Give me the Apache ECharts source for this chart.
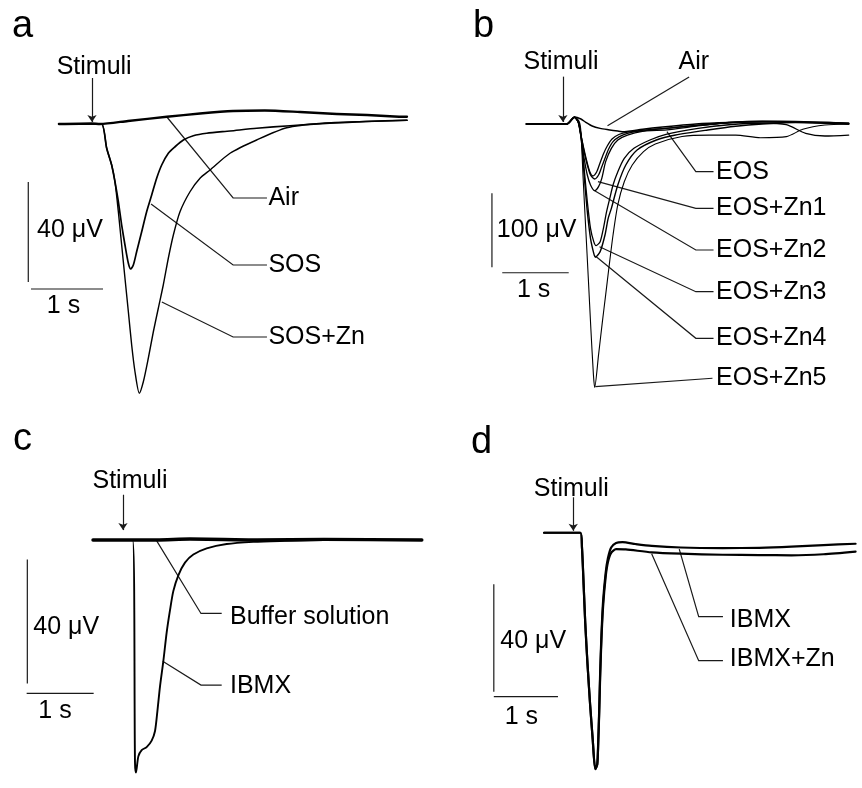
<!DOCTYPE html>
<html>
<head>
<meta charset="utf-8">
<script src="https://cdn.jsdelivr.net/npm/echarts@6/dist/echarts.min.js"></script>
<style>
html,body{margin:0;padding:0;background:#fff;}
#chart{width:862px;height:788px;}
</style>
</head>
<body>
<div id="chart"></div>
<script>
// ---------------- DATA (time in s from stimulus, response in µV) ----------------
// Panel a
const a_air   = [[-0.46,0],[0,0.2],[0.11,0],[0.5,1.2],[1.04,2.9],[1.5,4.2],[1.96,5.2],[2.4,5.4],[2.89,4.8],[3.4,4.0],[3.82,3.6],[4.2,3.0],[4.375,2.9]];
const a_sos   = [[-0.46,0],[0,0],[0.134,0],[0.204,-9.7],[0.273,-16.4],[0.319,-23.1],[0.366,-31.1],[0.412,-40.4],[0.458,-48.4],[0.505,-55.7],[0.537,-58],[0.574,-56.4],[0.62,-51.1],[0.69,-43.1],[0.759,-35.1],[0.829,-28.4],[0.898,-21.7],[0.968,-16.4],[1.06,-11.7],[1.153,-9.1],[1.269,-6.4],[1.407,-4.7],[1.593,-3.7],[1.917,-2.8],[2.287,-1.7],[2.75,-0.7],[3.3,0.3],[3.8,1.0],[4.375,1.5]];
const a_sosZn = [[-0.46,0],[0,0],[0.134,0],[0.204,-9.7],[0.273,-16.4],[0.319,-23.1],[0.366,-35.1],[0.412,-48.4],[0.458,-61.7],[0.505,-75.1],[0.551,-88.4],[0.597,-99.1],[0.657,-107.7],[0.713,-103.1],[0.782,-93.7],[0.852,-83.1],[0.921,-73.7],[0.99,-64.4],[1.06,-53.7],[1.13,-44.4],[1.222,-35.1],[1.361,-27.1],[1.5,-21.7],[1.639,-18.4],[1.917,-11.7],[2.287,-6.4],[2.704,-1.5],[3.2,0.3],[3.8,1.0],[4.375,1.5]];
// Panel b
const b_air = [[-0.55,0],[0.058,0],[0.174,9.5],[0.271,6.8],[0.343,2.3],[0.44,-2.7],[0.56,-5.9],[0.681,-7.7],[0.826,-9.5],[0.923,-10.4],[1.019,-9.5],[1.2,-7],[1.5,-4],[2.0,0],[2.5,2],[3.0,3],[3.5,2.5],[4.0,1],[4.3,0]];
const b_eos = [[-0.55,0],[0.058,0],[0.17,9],[0.23,3],[0.261,-10.8],[0.312,-32.4],[0.362,-51.4],[0.406,-64.9],[0.449,-70.3],[0.507,-64.9],[0.558,-52.7],[0.609,-40.5],[0.667,-29.7],[0.739,-20.3],[0.841,-14.2],[0.971,-11],[1.188,-9.5],[1.565,-8],[2.0,-3],[2.5,2],[3.0,4],[3.5,3.5],[4.0,2],[4.3,1]];
const b_zn1 = [[-0.55,0],[0.058,0],[0.174,9.5],[0.23,3],[0.271,-14.9],[0.319,-37.4],[0.367,-55.4],[0.415,-68.9],[0.478,-74.3],[0.536,-68.9],[0.585,-57.7],[0.633,-46.4],[0.681,-35.1],[0.754,-23.9],[0.85,-17.1],[0.971,-12.6],[1.213,-8.1],[1.551,-5.8],[2.0,-2],[2.5,2],[3.0,3.5],[3.5,3],[4.0,1.5],[4.3,0.5]];
const b_zn2 = [[-0.55,0],[0.058,0],[0.174,9],[0.23,2],[0.271,-17.1],[0.319,-46.4],[0.367,-68.9],[0.415,-82.4],[0.478,-90.1],[0.536,-84.7],[0.585,-73.4],[0.643,-50.9],[0.729,-32.9],[0.826,-21.6],[0.971,-14.9],[1.213,-9.5],[1.551,-5.8],[2.0,-2],[2.5,1.5],[3.0,3],[3.5,2.5],[4.0,1],[4.3,0]];
const b_zn3 = [[-0.55,0],[0.058,0],[0.174,9],[0.24,1],[0.285,-23.9],[0.319,-59.9],[0.367,-105],[0.415,-141],[0.464,-159],[0.498,-164.4],[0.56,-159],[0.609,-141],[0.657,-118.5],[0.705,-100.5],[0.754,-82.4],[0.826,-64.4],[0.923,-46.4],[1.068,-32.9],[1.309,-21.6],[1.551,-13.9],[2.034,-5.8],[2.5,-1],[3.0,1],[3.36,-1],[3.652,-12.6],[3.942,-16.2],[4.3,-14.9]];
const b_zn4 = [[-0.55,0],[0.058,0],[0.174,9],[0.24,1],[0.285,-28.4],[0.319,-68.9],[0.367,-118.5],[0.415,-154.5],[0.464,-174.8],[0.488,-180],[0.56,-172.5],[0.633,-150],[0.681,-127.5],[0.729,-114],[0.826,-82.4],[0.946,-55.4],[1.116,-35.1],[1.406,-21.6],[1.696,-14.9],[2.179,-8.1],[2.6,-3],[3.0,0],[3.5,2],[4.0,2],[4.3,1]];
const b_zn5 = [[-0.55,0],[0.058,0],[0.174,9.5],[0.246,3.2],[0.271,-10.4],[0.304,-73.4],[0.343,-141],[0.382,-208.5],[0.42,-276],[0.459,-339],[0.478,-356],[0.536,-312],[0.594,-267],[0.643,-231],[0.691,-195],[0.754,-150],[0.826,-109],[0.923,-78],[1.043,-55.4],[1.213,-37.4],[1.39,-27],[1.792,-17],[2.2,-15],[2.6,-15],[2.971,-18.5],[3.362,-17.1],[3.609,-7.2],[3.942,-1.4],[4.3,0]];
// Panel c
const c_buffer = [[-0.448,0],[0.5,0],[1.0,0.3],[2.0,0],[3.0,0.2],[4.46,0]];
const c_ibmx   = [[-0.448,0],[0.144,0],[0.179,-71.9],[0.194,-75],[0.229,-69.8],[0.279,-67.8],[0.353,-66.8],[0.428,-64.7],[0.478,-61.6],[0.512,-55.5],[0.552,-47.3],[0.602,-39.1],[0.652,-29.8],[0.701,-22.7],[0.751,-16.5],[0.826,-11.4],[0.925,-7.3],[1.05,-4.7],[1.249,-2.7],[1.547,-1.3],[1.945,-0.6],[2.34,-0.3],[3.0,0],[4.46,0]];
// Panel d
const d_ibmx   = [[-0.455,0],[0.111,0],[0.136,-5.5],[0.162,-19.5],[0.187,-33.6],[0.222,-48.8],[0.263,-64],[0.303,-76.8],[0.343,-88],[0.374,-86.2],[0.389,-78],[0.404,-66.3],[0.419,-52.3],[0.439,-38.2],[0.465,-25.4],[0.505,-14.9],[0.54,-9.5],[0.591,-5.5],[0.667,-3.8],[0.768,-3.5],[0.97,-4.2],[1.222,-4.9],[1.677,-5.5],[2.33,-5.7],[2.9,-5.6],[3.4,-5.2],[3.9,-4.6],[4.4,-4.1]];
const d_ibmxZn = [[-0.455,0],[0.111,0],[0.136,-5.5],[0.162,-19.5],[0.187,-33.6],[0.222,-48.8],[0.263,-64],[0.303,-76.8],[0.343,-88],[0.374,-86.2],[0.389,-78.5],[0.404,-67.5],[0.419,-54],[0.439,-40],[0.465,-27.5],[0.505,-16.5],[0.54,-11],[0.591,-7.5],[0.667,-6.1],[0.818,-6.2],[1.222,-7.3],[1.677,-7.8],[2.33,-8.2],[2.9,-8.3],[3.4,-8.4],[3.9,-8.0],[4.4,-7.0]];

// Scale bar sizes (data units)
const scaleA = {uV:40, s:1};
const scaleB = {uV:100, s:1};
const scaleC = {uV:40, s:1};
const scaleD = {uV:40, s:1};

// ---------------- LAYOUT ----------------
const FONT = "'Liberation Sans', Arial, Helvetica, sans-serif";
const INK = '#000';
const panels = [
  { letter:'a', letterPos:[12,40],
    grid:{left:20, top:24, width:432, height:400}, x:[-1,5], y:[-120,40],
    traces:[{d:a_air,w:2.3},{d:a_sos,w:1.7},{d:a_sosZn,w:1.4}],
    arrow:[[0,18.4],[0,0.8]],
    leaders:[[[1.04,2.8],[1.96,-29.6],[2.43,-29.6]],[[0.82,-32],[1.96,-56.4],[2.43,-56.4]],[[0.97,-71.2],[1.96,-85.2],[2.43,-85.2]]],
    bar:{x:-0.885, y0:-23.2, hx:-0.847, hy:-66, sc:scaleA},
    labels:[['Stimuli',0.03,22.8,'center'],['Air',2.45,-29.6,'left'],['SOS',2.45,-56.4,'left'],['SOS+Zn',2.45,-85.2,'left'],['40 μV',-0.764,-42.4,'left'],['1 s',-0.396,-72.8,'center']]
  },
  { letter:'b', letterPos:[473,40],
    grid:{left:430, top:50, width:448.5, height:370}, x:[-2,4.5], y:[-400,100],
    traces:[{d:b_air,w:1.5},{d:b_eos,w:1.3},{d:b_zn1,w:1.3},{d:b_zn2,w:1.3},{d:b_zn3,w:1.3},{d:b_zn4,w:1.4},{d:b_zn5,w:1.1}],
    arrow:[[0,64],[0,2.7]],
    leaders:[[[1.899,63.5],[0.671,-2.3]],[[1.565,-10.4],[2.0,-64.4],[2.266,-64.4]],[[0.527,-77.9],[2.0,-114],[2.266,-114]],[[0.478,-90.1],[2.0,-170.3],[2.266,-170.3]],[[0.551,-165.8],[2.0,-226.6],[2.266,-226.6]],[[0.488,-178.4],[2.0,-289.6],[2.266,-289.6]],[[0.488,-355],[2.25,-343.6]]],
    bar:{x:-1.068, y0:-93.7, hx:-0.913, hy:-201, sc:scaleB},
    labels:[['Stimuli',-0.029,83.8,'center'],['Air',1.97,84.2,'center'],['EOS',2.304,-64.4,'left'],['EOS+Zn1',2.304,-114,'left'],['EOS+Zn2',2.304,-170.3,'left'],['EOS+Zn3',2.304,-226.6,'left'],['EOS+Zn4',2.304,-289.6,'left'],['EOS+Zn5',2.304,-343.6,'left'],['100 μV',-0.995,-143.2,'left'],['1 s',-0.44,-224.3,'center']]
  },
  { letter:'c', letterPos:[13,453],
    grid:{left:22.5, top:478, width:435.5, height:325}, x:[-1.5,5], y:[-80,20],
    traces:[{d:c_buffer,w:3.4},{d:c_ibmx,w:1.9}],
    arrow:[[0,14.6],[0,3.2]],
    leaders:[[[0.503,-0.3],[1.164,-23.7],[1.473,-23.7]],[[0.593,-39.1],[1.164,-46.8],[1.473,-46.8]]],
    bar:{x:-1.428, y0:-6.3, hx:-1.438, hy:-49.5, sc:scaleC},
    labels:[['Stimuli',0.104,19.1,'center'],['Buffer solution',1.597,-24.9,'left'],['IBMX',1.597,-47,'left'],['40 μV',-1.339,-28.1,'left'],['1 s',-1.015,-55.3,'center']]
  },
  { letter:'d', letterPos:[471,456],
    grid:{left:477, top:479, width:396, height:327.75}, x:[-1.5,4.5], y:[-95,20],
    traces:[{d:d_ibmx,w:2.2},{d:d_ibmxZn,w:2.2}],
    arrow:[[0,13.2],[0,0.7]],
    leaders:[[[1.652,-6.1],[1.955,-31.2],[2.333,-31.2]],[[1.222,-7.8],[1.955,-47.6],[2.333,-47.6]]],
    bar:{x:-1.238, y0:-19.2, hx:-1.238, hy:-61, sc:scaleD},
    labels:[['Stimuli',-0.03,16.4,'center'],['IBMX',2.44,-32.4,'left'],['IBMX+Zn',2.44,-47,'left'],['40 μV',-1.136,-40.2,'left'],['1 s',-0.808,-68.7,'center']]
  }
];

// ---------------- BUILD ----------------
const grids=[], xAxes=[], yAxes=[], series=[], graphics=[];
panels.forEach((p,i)=>{
  grids.push(Object.assign({containLabel:false, show:false}, p.grid));
  xAxes.push({type:'value', gridIndex:i, min:p.x[0], max:p.x[1], show:false, splitLine:{show:false}});
  yAxes.push({type:'value', gridIndex:i, min:p.y[0], max:p.y[1], show:false, splitLine:{show:false}});
  p.traces.forEach(t=>{
    series.push({type:'line', xAxisIndex:i, yAxisIndex:i, data:t.d, symbol:'none', showSymbol:false,
      smooth:0.25, clip:false, silent:true, animation:false,
      lineStyle:{color:INK, width:t.w, join:'round', cap:'round', opacity:1}});
  });
  const b = p.bar;
  const lineItems = p.leaders.map(c=>({coords:c}));
  lineItems.push({coords:[[b.x,b.y0],[b.x,b.y0-b.sc.uV]]});
  lineItems.push({coords:[[b.hx,b.hy],[b.hx+b.sc.s,b.hy]]});
  series.push({type:'lines', coordinateSystem:'cartesian2d', xAxisIndex:i, yAxisIndex:i, polyline:true,
    data:lineItems, clip:false, silent:true, animation:false,
    lineStyle:{color:'#1a1a1a', width:1.2, opacity:1}});
  series.push({type:'lines', coordinateSystem:'cartesian2d', xAxisIndex:i, yAxisIndex:i,
    data:[{coords:p.arrow}], symbol:['none','arrow'], symbolSize:7, clip:false, silent:true, animation:false,
    lineStyle:{color:'#1a1a1a', width:1.2, opacity:1}});
  series.push({type:'scatter', xAxisIndex:i, yAxisIndex:i, symbolSize:0, clip:false, silent:true, animation:false,
    itemStyle:{opacity:1},
    data:p.labels.map(l=>({name:l[0], value:[l[1],l[2]], label:{align:l[3]}})),
    label:{show:true, position:[0,0], formatter:'{b}', verticalAlign:'middle', color:INK, opacity:1,
      fontFamily:FONT, fontSize:25}});
  graphics.push({type:'text', x:p.letterPos[0], y:p.letterPos[1]-13.3,
    style:{text:p.letter, font:'38px '+FONT, fill:INK, verticalAlign:'middle', align:'left'}});
});

const chart = echarts.init(document.getElementById('chart'), null, {renderer:'canvas'});
chart.setOption({
  backgroundColor:'#fff', animation:false,
  grid:grids, xAxis:xAxes, yAxis:yAxes, series:series, graphic:graphics,
  tooltip:{show:false}
});
</script>
</body>
</html>
